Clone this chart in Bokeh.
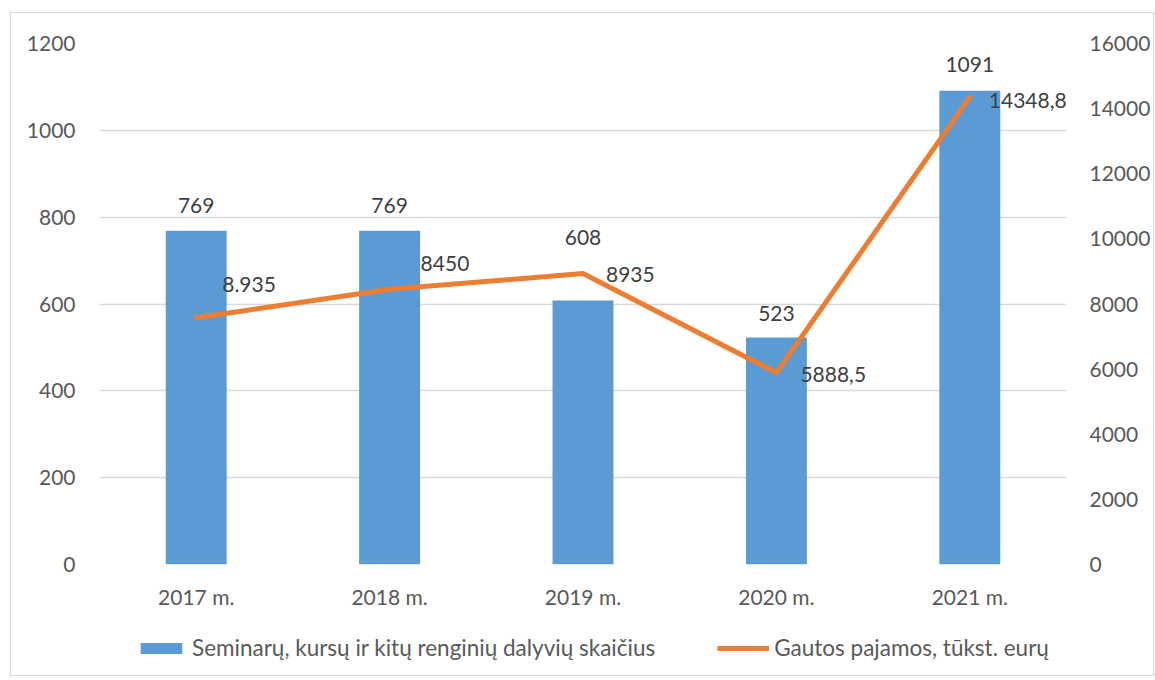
from bokeh.plotting import figure
from bokeh.layouts import column
from bokeh.models import (Range1d, LinearAxis, FactorRange, FixedTicker, ColumnDataSource,
                          Legend, LegendItem)
from bokeh.core.properties import value
from bokeh.embed import file_html
from bokeh.resources import INLINE

# ---- data ----
years = ["2017 m.", "2018 m.", "2019 m.", "2020 m.", "2021 m."]
participants = [769, 769, 608, 523, 1091]
income = [7580, 8450, 8935, 5888.5, 14348.8]
income_labels = ["8.935", "8450", "8935", "5888,5", "14348,8"]
left_ticks = [0, 200, 400, 600, 800, 1000, 1200]
right_ticks = [0, 2000, 4000, 6000, 8000, 10000, 12000, 14000, 16000]
bar_name = "Seminarų, kursų ir kitų renginių dalyvių skaičius"
line_name = "Gautos pajamos, tūkst. eurų"

# ---- styles ----
bar_label_dy = [-25, -25, -63, -24, -26]
label_dx = [26, 31, 23, 24, 19]
label_dy = [-33, -26, 1, 2, 3]
FONT = "Lato"
FS = "21px"
LEG_FS = "22.5px"
TICK_COLOR = "#595959"
LABEL_COLOR = "#404040"
BAR_COLOR = "#5B9BD5"
LINE_COLOR = "#ED7D31"

p = figure(width=1142, height=607, output_backend="svg", toolbar_location=None,
           x_range=FactorRange(*years, range_padding=0),
           y_range=Range1d(0, 1200),
           min_border_left=88, min_border_right=87, min_border_top=30, min_border_bottom=56)
p.extra_y_ranges = {"right": Range1d(0, 16000)}
p.outline_line_color = None
p.background_fill_color = "#FFFFFF"
p.border_fill_color = "#FFFFFF"

bar_src = ColumnDataSource(dict(x=years, y=participants, lab=[str(v) for v in participants],
                                dy=bar_label_dy))
line_src = ColumnDataSource(dict(x=years, y=income, lab=income_labels, dx=label_dx, dy=label_dy))

bars = p.vbar(x="x", top="y", width=0.315, source=bar_src, fill_color=BAR_COLOR, line_color=None)
line = p.line(x="x", y="y", source=line_src, y_range_name="right", line_color=LINE_COLOR,
              line_width=5, line_cap="round", line_join="round")

p.text(x="x", y="y", text="lab", source=bar_src, text_align="center", text_baseline="middle",
       y_offset="dy", text_font=value(FONT), text_font_size=FS, text_color=LABEL_COLOR)
p.text(x="x", y="y", text="lab", source=line_src, y_range_name="right", text_align="left",
       text_baseline="middle", x_offset="dx", y_offset="dy", text_font=value(FONT),
       text_font_size=FS, text_color=LABEL_COLOR)

ry = LinearAxis(y_range_name="right", ticker=FixedTicker(ticks=right_ticks))
p.add_layout(ry, "right")

for ax in [p.xaxis[0], p.yaxis[0], ry]:
    ax.axis_line_color = None
    ax.major_tick_line_color = None
    ax.minor_tick_line_color = None
    ax.major_tick_out = 0
    ax.major_tick_in = 0
    ax.minor_tick_out = 0
    ax.minor_tick_in = 0
    ax.major_label_text_font = FONT
    ax.major_label_text_font_size = FS
    ax.major_label_text_color = TICK_COLOR
p.xaxis.major_label_standoff = 19
p.yaxis[0].ticker = FixedTicker(ticks=left_ticks)
p.yaxis[0].major_label_standoff = 24
ry.major_label_standoff = 23

p.xgrid.grid_line_color = None
p.ygrid.grid_line_color = "#D9D9D9"
p.ygrid.grid_line_width = 1.5
p.ygrid.ticker = FixedTicker(ticks=left_ticks)

# ---- legend strip (swatches use placeholder glyphs kept outside the visible range) ----
q = figure(width=1142, height=55, output_backend="svg", toolbar_location=None,
           x_range=Range1d(0, 1), y_range=Range1d(0, 1), x_axis_type=None, y_axis_type=None,
           min_border=0)
q.outline_line_color = None
q.grid.visible = False
swatch_bar = ColumnDataSource(dict(x=[-10], top=[-10]))
swatch_line = ColumnDataSource(dict(x=[-10, -9], y=[-10, -10]))
lb = q.vbar(x="x", top="top", width=0.1, source=swatch_bar, fill_color=BAR_COLOR, line_color=None)
ll = q.line(x="x", y="y", source=swatch_line, line_color=LINE_COLOR, line_width=5)

legend = Legend(items=[LegendItem(label=bar_name, renderers=[lb]),
                       LegendItem(label=line_name, renderers=[ll])],
                orientation="horizontal", location=(36, 14),
                glyph_width=52, glyph_height=14, label_standoff=5, spacing=62,
                label_text_font=FONT, label_text_font_size=LEG_FS, label_text_color=TICK_COLOR,
                border_line_color=None, background_fill_alpha=0, margin=0, padding=0)
q.add_layout(legend, "center")

layout = column(p, q, spacing=0,
                styles={"border": "1px solid #D9D9D9", "margin-left": "10px", "margin-top": "12px"})

open("out.html", "w").write(file_html(layout, INLINE))
